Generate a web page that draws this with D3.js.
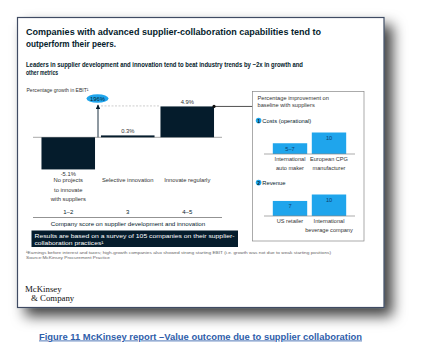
<!DOCTYPE html>
<html><head><meta charset="utf-8">
<script src="https://cdn.jsdelivr.net/npm/d3@7"></script>
<style>
html,body{margin:0;padding:0;background:#fff;}
svg{display:block;font-family:"Liberation Sans",Arial,sans-serif;}
</style></head><body>
<svg id="c" width="424" height="360"></svg>
<script>
// ---- data ----
const titleLines = ["Companies with advanced supplier-collaboration capabilities tend to", "outperform their peers."];
const subtitleLines = ["Leaders in supplier development and innovation tend to beat industry trends by ~2x in growth and", "other metrics"];
const yAxisTitle = "Percentage growth in EBIT¹";
const categories = ["No projects to innovate with suppliers", "Selective innovation", "Innovate regularly"];
const categoryLines = [["No projects", "to innovate", "with suppliers"], ["Selective innovation"], ["Innovate regularly"]];
const ebitGrowth = [-5.1, 0.3, 4.9];
const ebitLabels = ["-5.1%", "0.3%", "4.9%"];
const scores = ["1–2", "3", "4–5"];
const outlierLabel = "196%";
const scoreTitle = "Company score on supplier development and innovation";
const noteLines = ["Results are based on a survey of 105 companies on their supplier-", "collaboration practices¹"];
const footLines = ["¹Earnings before interest and taxes; high-growth companies also showed strong starting EBIT (i.e. growth was not due to weak starting positions)", "Source:McKinsey Procurement Practice"];
const panelTitle = ["Percentage improvement on", "baseline with suppliers"];
const costTitle = "Costs (operational)";
const costCompanies = [["International", "auto maker"], ["European CPG", "manufacturer"]];
const costValues = [5, 10];
const costLabels = ["5–7", "10"];
const revenueTitle = "Revenue";
const revenueCompanies = [["US retailer"], ["International", "beverage company"]];
const revenueValues = [7, 10];
const revenueLabels = ["7", "10"];
const caption = "Figure 11 McKinsey report –Value outcome due to supplier collaboration";

// ---- drawing ----
const svg = d3.select("#c");
const navy = "#051c2c", blue = "#1fa5ec", grey = "#333";

function fit(sel, w){ sel.attr("textLength", w).attr("lengthAdjust", "spacingAndGlyphs"); return sel; }

const defs = svg.append("defs");
const f = defs.append("filter").attr("id","sh").attr("x","-10%").attr("y","-10%").attr("width","135%").attr("height","140%");
f.append("feDropShadow").attr("dx",8).attr("dy",8).attr("stdDeviation",7).attr("flood-color","#000").attr("flood-opacity",0.75);

// card
svg.append("rect").attr("x",17.5).attr("y",17.5).attr("width",366.5).attr("height",290)
  .attr("fill","#fff").attr("stroke","#3f4c63").attr("stroke-width",1.2).attr("filter","url(#sh)");

// title
const tw = [295, 90];
titleLines.forEach((t,i)=>{
  fit(svg.append("text").attr("x",26).attr("y",35+i*11.5).attr("font-size",9.6).attr("font-weight","bold").attr("fill",navy).text(t), tw[i]);
});
const sw = [277, 32];
subtitleLines.forEach((t,i)=>{
  fit(svg.append("text").attr("x",26).attr("y",67+i*7.5).attr("font-size",6.6).attr("font-weight","bold").attr("fill",navy).text(t), sw[i]);
});
fit(svg.append("text").attr("x",26.5).attr("y",91.5).attr("font-size",5.6).attr("fill",grey).text(yAxisTitle), 62);

// main chart scales
const x = d3.scaleBand().domain(categories).range([38.5, 217]).paddingInner(0.1).paddingOuter(0.05);
const y = d3.scaleLinear().domain([-6, 6]).range([175.1, 99.5]);
const bw = x.bandwidth();
const data = categories.map((c,i)=>({c, v: ebitGrowth[i], lab: ebitLabels[i], score: scores[i], lines: categoryLines[i]}));

// baseline
svg.append("line").attr("x1",33).attr("x2",222).attr("y1",y(0)).attr("y2",y(0)).attr("stroke","#a9a9a9").attr("stroke-width",1);

svg.selectAll("rect.bar").data(data).join("rect").attr("class","bar")
  .attr("x", d=>x(d.c)).attr("width", bw)
  .attr("y", d=>y(Math.max(0,d.v))).attr("height", d=>Math.abs(y(d.v)-y(0)))
  .attr("fill", navy);

svg.selectAll("text.val").data(data).join("text").attr("class","val")
  .attr("x", d=>x(d.c)+bw/2).attr("y", d=> d.v<0 ? y(d.v)+6.5 : y(d.v)-2.5)
  .attr("text-anchor","middle").attr("font-size",5.8).attr("fill",grey).text(d=>d.lab);

// category labels
data.forEach(d=>{
  d.lines.forEach((l,j)=>{
    svg.append("text").attr("x", x(d.c)+bw/2).attr("y", 182+j*9.6).attr("text-anchor","middle")
      .attr("font-size",5.8).attr("fill",grey).text(l);
  });
  svg.append("text").attr("x", x(d.c)+bw/2).attr("y", 214).attr("text-anchor","middle")
    .attr("font-size",6).attr("fill",navy).text(d.score);
});
svg.append("line").attr("x1",33).attr("x2",222).attr("y1",217.5).attr("y2",217.5).attr("stroke","#777").attr("stroke-width",0.8);
svg.append("text").attr("x",128).attr("y",225.8).attr("text-anchor","middle").attr("font-size",6.2).attr("fill",navy).text(scoreTitle);

// outlier arrow + dashed link
const ax = (x(categories[0]) + bw + x(categories[1]))/2;
const topY = y(ebitGrowth[2]);
defs.append("marker").attr("id","ah").attr("viewBox","0 0 10 10").attr("refX",9).attr("refY",5)
  .attr("markerWidth",5).attr("markerHeight",5).attr("orient","auto")
  .append("path").attr("d","M0,0L10,5L0,10z").attr("fill",navy);
svg.append("line").attr("x1",ax).attr("x2",ax).attr("y1",y(0)).attr("y2",topY-1.5)
  .attr("stroke",navy).attr("stroke-width",0.9).attr("marker-end","url(#ah)");
svg.append("line").attr("x1",ax+3).attr("x2",x(categories[2])).attr("y1",topY-0.5).attr("y2",topY-0.5)
  .attr("stroke","#aaa").attr("stroke-width",0.6).attr("stroke-dasharray","2,1.5");
svg.append("ellipse").attr("cx",ax-0.5).attr("cy",98.5).attr("rx",11).attr("ry",4.3).attr("fill",blue);
svg.append("text").attr("x",ax-0.5).attr("y",100.6).attr("text-anchor","middle").attr("font-size",5.8).attr("fill",navy).text(outlierLabel);

// connector to panel
const px0 = 252.5, px1 = 364, py0 = 91.5, py1 = 241;
svg.append("line").attr("x1",x(categories[2])+bw).attr("x2",px0).attr("y1",topY).attr("y2",topY).attr("stroke","#222").attr("stroke-width",0.8);
svg.append("circle").attr("cx",x(categories[2])+bw).attr("cy",topY).attr("r",1.6).attr("fill","#111");

// note box
svg.append("rect").attr("x",31.5).attr("y",230.5).attr("width",206.5).attr("height",16.5).attr("fill",navy);
const nw = [200, 69];
noteLines.forEach((t,i)=>{
  fit(svg.append("text").attr("x",34.5).attr("y",237.8+i*7.2).attr("font-size",6.2).attr("fill","#fff").text(t), nw[i]);
});
// footnotes
const fw = [305, 84];
footLines.forEach((t,i)=>{
  fit(svg.append("text").attr("x",26).attr("y",254+i*4.6).attr("font-size",3.9).attr("fill","#666").text(t), fw[i]);
});
// logo
svg.append("text").attr("x",25).attr("y",291.5).attr("font-family","'Liberation Serif','DejaVu Serif',serif").attr("font-size",8.8).attr("fill","#111").text("McKinsey");
svg.append("text").attr("x",31).attr("y",300.5).attr("font-family","'Liberation Serif','DejaVu Serif',serif").attr("font-size",8.8).attr("fill","#111").text("& Company");

// right panel
svg.append("rect").attr("x",px0).attr("y",py0).attr("width",px1-px0).attr("height",py1-py0).attr("fill","#fff").attr("stroke","#888").attr("stroke-width",0.7);
panelTitle.forEach((t,i)=>{
  svg.append("text").attr("x",257.5).attr("y",99.8+i*7.6).attr("font-size",5.7).attr("fill",grey).text(t);
});
const xr = d3.scaleBand().domain([0,1]).range([264, 355]).paddingInner(0.118).paddingOuter(0.226);
const hr = d3.scaleLinear().domain([0,10]).range([0,21.5]);
function miniChart(num, title, titleY, baseY, vals, labs, comps){
  svg.append("circle").attr("cx",258.6).attr("cy",titleY).attr("r",2.8).attr("fill",blue);
  svg.append("text").attr("x",258.6).attr("y",titleY+2).attr("text-anchor","middle").attr("font-size",5).attr("font-weight","bold").attr("fill",navy).text(num);
  svg.append("text").attr("x",262.3).attr("y",titleY+2.1).attr("font-size",5.8).attr("fill",navy).text(title);
  vals.forEach((v,i)=>{
    svg.append("rect").attr("x",xr(i)).attr("width",xr.bandwidth()).attr("y",baseY-hr(v)).attr("height",hr(v)).attr("fill",blue);
    svg.append("text").attr("x",xr(i)+xr.bandwidth()/2).attr("y",baseY-hr(v)+7.5).attr("text-anchor","middle").attr("font-size",5.6).attr("fill","#0d3d6e").text(labs[i]);
    comps[i].forEach((l,j)=>{
      svg.append("text").attr("x",xr(i)+xr.bandwidth()/2).attr("y",baseY+7.2+j*8.4).attr("text-anchor","middle").attr("font-size",5.6).attr("fill",grey).text(l);
    });
  });
  svg.append("line").attr("x1",264).attr("x2",355).attr("y1",baseY).attr("y2",baseY).attr("stroke","#888").attr("stroke-width",0.7);
}
miniChart("1", costTitle, 120.6, 154, costValues, costLabels, costCompanies);
miniChart("2", revenueTitle, 182.6, 216, revenueValues, revenueLabels, revenueCompanies);

// caption
const cap = svg.append("text").attr("x",200.5).attr("y",339.5).attr("text-anchor","middle").attr("font-size",8.2).attr("font-weight","bold")
  .attr("fill","#2f5eaa").attr("text-decoration","underline").text(caption);
fit(cap, 323);
</script></body></html>
